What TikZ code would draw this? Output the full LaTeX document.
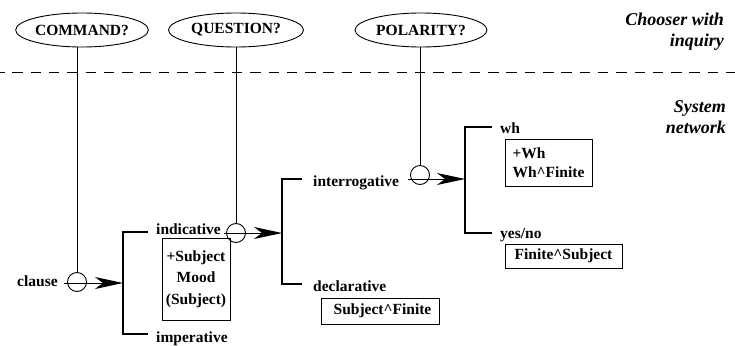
\documentclass[tikz,border=0pt]{standalone}
\usepackage{fontspec}
\setmainfont{Liberation Serif}
\usetikzlibrary{arrows.meta,shapes.geometric}
\begin{document}
\begin{tikzpicture}[x=1pt,y=-1pt,
  txt/.style={font=\fontsize{15.5}{18}\selectfont\bfseries},
  lbl/.style={txt, inner sep=0pt, anchor=base west},
  chooser/.style={txt, draw, ellipse, line width=0.9pt, minimum height=34pt, inner sep=0pt},
  gate/.style={draw, circle, minimum size=19pt, inner sep=0pt, line width=0.9pt},
  realiz/.style={txt, draw, line width=0.9pt, inner sep=0pt},
  bracket/.style={line width=1.3pt},
  link/.style={line width=0.9pt},
  arr/.style={line width=1pt, -{Stealth[length=28pt,width=12pt,inset=8pt]}},
  layer/.style={font=\fontsize{18}{21}\selectfont\bfseries\itshape, align=right, anchor=east, inner sep=0pt}
]
\useasboundingbox (0,0) rectangle (735,345);

% upper layer: choosers with their inquiries
\node[chooser, minimum width=131pt] (command)  at (82,30)  {COMMAND?};
\node[chooser, minimum width=135pt] (question) at (236,30) {QUESTION?};
\node[chooser, minimum width=132pt] (polarity) at (421,30) {POLARITY?};

\node[layer] (chooserlbl) at (724,32) {Chooser with\\inquiry};
\node[layer] (systemlbl)  at (726,117) {System\\network};

% border between the two layers
\coordinate (sepL) at (0,72);
\coordinate (sepR) at (735,72);
\draw[line width=0.9pt, dash pattern=on 10.5pt off 7.8pt, dash phase=6pt] (sepL) -- (sepR);

% features
\node[lbl] (clause)        at (17,286)  {clause};
\node[lbl] (indicative)    at (156,234) {indicative};
\node[lbl] (imperative)    at (156,342) {imperative};
\node[lbl] (interrogative) at (313,186) {interrogative};
\node[lbl] (declarative)   at (313,291) {declarative};
\node[lbl] (wh)            at (500,133) {wh};
\node[lbl] (yesno)         at (500,238) {yes/no};

% realization statements
\node[realiz, minimum width=68pt, minimum height=82pt, align=center,
      font=\fontsize{15.5}{21.5}\selectfont\bfseries] (moodbox) at (196,279)
      {+Subject\\Mood\\(Subject)};
\node[realiz, minimum width=118pt, minimum height=26pt] (declbox) at (380,311)
      {\hspace*{5pt}Subject\textasciicircum Finite};
\node[realiz, minimum width=87pt, minimum height=47pt, align=left,
      font=\fontsize{15.5}{19}\selectfont\bfseries] (whbox) at (548.5,162.5)
      {+Wh\\Wh\textasciicircum Finite};
\node[realiz, minimum width=117pt, minimum height=24pt] (ynbox) at (563.5,256)
      {Finite\textasciicircum Subject};

% gates where the choosers act on the systems
\node[gate] (g1) at (77,282)  {};
\node[gate] (g2) at (236,233) {};
\node[gate] (g3) at (420,175) {};

\draw[link] (g1.north) -- (command.south -| g1.north);
\draw[link] (g2.north) -- (question.south -| g2.north);
\draw[link] (g3.north) -- (polarity.south -| g3.north);

% systems: entry arrows and option brackets
\coordinate (a1) at (64,283);
\coordinate (m1) at (123,283);
\coordinate (t1) at (148,232);
\coordinate (u1) at (148,334);
\coordinate (a2) at (224,233);
\coordinate (m2) at (282,233);
\coordinate (t2) at (302,179);
\coordinate (u2) at (302,284);
\coordinate (a3) at (408,179);
\coordinate (m3) at (465,180);
\coordinate (t3) at (492,127);
\coordinate (u3) at (492,233);

\draw[arr] (a1) -- (m1);
\draw[arr] (a2) -- (m2);
\draw[arr] (a3) -- (m3 |- a3);

\draw[bracket] (t1) -| (m1) |- (u1);
\draw[bracket] (t2) -| (m2) |- (u2);
\draw[bracket] (t3) -| (m3) |- (u3);
\end{tikzpicture}
\end{document}
